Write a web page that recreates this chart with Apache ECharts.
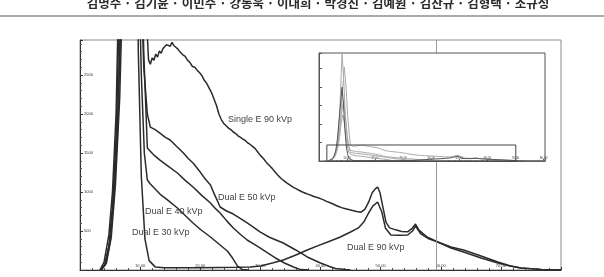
<!DOCTYPE html>
<html><head><meta charset="utf-8">
<script src="https://cdn.jsdelivr.net/npm/echarts@6/dist/echarts.min.js"></script>
<style>html,body{margin:0;padding:0;background:#fff}#c{width:604px;height:277px}</style>
</head><body><div id="c"></div>
<script>
// ---- data: [energy (keV), counts] ----
const headerText = "김명수 · 김기윤 · 이민수 · 강동욱 · 이대희 · 박경진 · 김예원 · 김찬규 · 김형택 · 조규성";
const seriesNames = ["Single E 90 kVp", "Dual E 50 kVp", "Dual E 40 kVp", "Dual E 30 kVp", "Dual E 90 kVp"];
const markerEnergy = 59.3;
const zoomBox = [[2.8, 0], [70.1, 2950]];

const single90 = [[3.5,0],[4.2,80],[5,380],[5.6,900],[6.2,1700],[6.8,3200],[7.5,6500],[8.3,12500],[9.0,17300],[9.6,14000],[10.2,8500],[10.8,4800],[11.2,3000],[11.4,2692],[11.7,2640],[12.0,2720],[12.3,2690],[12.6,2770],[12.9,2730],[13.2,2810],[13.5,2780],[13.8,2840],[14.1,2820],[14.4,2890],[14.7,2915],[15.0,2870],[15.3,2920],[15.6,2880],[15.9,2860],[16.2,2840],[16.5,2810],[16.8,2790],[17.1,2760],[17.5,2740],[17.9,2690],[18.3,2660],[18.7,2610],[19.1,2600],[19.5,2560],[19.9,2530],[20.3,2490],[20.7,2430],[21.1,2390],[21.5,2330],[21.9,2270],[22.3,2190],[22.7,2110],[23.1,2000],[23.5,1930],[23.9,1880],[24.3,1850],[24.7,1820],[25.1,1800],[25.5,1770],[25.9,1750],[26.3,1720],[26.7,1700],[27.1,1680],[27.5,1660],[27.9,1630],[28.3,1610],[28.7,1585],[29.1,1560],[29.5,1520],[30.0,1470],[30.5,1430],[31.0,1380],[31.5,1340],[32.0,1300],[32.5,1250],[33.0,1210],[33.5,1170],[34.0,1140],[34.5,1110],[35.0,1085],[35.5,1060],[36.0,1040],[36.5,1020],[37.0,1000],[37.5,985],[38.0,970],[38.5,955],[39.0,940],[39.5,930],[40.0,915],[40.5,900],[41.0,880],[41.5,865],[42.0,850],[42.5,830],[43.0,815],[43.5,800],[44.0,790],[44.5,780],[45.0,770],[45.5,760],[46.0,750],[46.7,740],[47.4,780],[48.0,870],[48.6,990],[49.1,1040],[49.5,1064],[49.9,990],[50.4,800],[50.9,610],[51.5,540],[52.5,515],[53.5,495],[54.5,490],[55.2,530],[55.8,590],[56.3,520],[57.0,470],[57.8,420],[59.5,360],[61.7,295],[63.8,256],[66.7,180],[69.5,103],[71.5,55],[73.3,26],[76.7,8],[80,3]];
const dual50 = [[3.5,0],[4.1,60],[4.8,300],[5.4,800],[6.0,1700],[6.6,3500],[7.3,8000],[8.2,19900],[8.8,15000],[9.4,8000],[10.0,4200],[10.6,2600],[11.2,2000],[11.7,1833],[12.5,1800],[13.3,1756],[14.2,1700],[15.0,1667],[16.0,1590],[17.2,1500],[18.0,1430],[18.8,1372],[20.0,1256],[20.8,1170],[21.7,1090],[22.3,980],[22.8,897],[23.3,808],[24.3,760],[25.5,718],[26.7,660],[27.8,603],[29.0,540],[30.0,487],[31.5,420],[33.8,346],[35.8,260],[37.8,167],[40.0,90],[41.5,45],[42.5,19],[44.2,5],[45,0]];
const dual40 = [[3.5,0],[4.3,80],[5.0,380],[5.7,1000],[6.3,2000],[7.0,4000],[7.8,8000],[8.8,11200],[9.4,8500],[10.0,5000],[10.6,2800],[11.2,1564],[12.2,1480],[13.3,1410],[14.7,1330],[16.2,1244],[17.5,1150],[18.8,1064],[20.2,960],[21.7,859],[22.5,790],[23.3,731],[24.4,630],[25.5,538],[26.7,455],[27.8,385],[29.0,330],[30.0,282],[31.2,220],[32.5,154],[34.0,90],[35.5,38],[36.7,5],[38,0]];
const dual30 = [[3.5,0],[4.4,90],[5.2,420],[5.9,1100],[6.6,2200],[7.3,4200],[7.9,7000],[8.5,8500],[9.0,7000],[9.6,4500],[10.2,2500],[10.7,1500],[11.2,1154],[11.7,1103],[12.5,1040],[13.3,974],[14.7,890],[16.2,795],[17.5,700],[18.8,603],[20.2,510],[21.7,423],[23.0,340],[24.5,244],[25.4,150],[26.2,51],[27.0,5],[28,0]];
const dual90 = [[3.3,0],[4.0,100],[4.8,450],[5.4,1000],[6.0,2000],[6.6,4200],[7.4,9000],[8.2,13600],[8.7,10500],[9.2,6000],[9.7,2800],[10.2,1200],[10.8,400],[11.5,120],[12.5,40],[14,30],[17,28],[20,30],[23,32],[26,35],[28.3,38],[30,51],[32,90],[33.8,128],[35.8,190],[37.8,256],[39.5,310],[41.2,359],[43.2,420],[45.0,487],[46.3,540],[47.2,615],[48.0,731],[48.7,820],[49.5,872],[50.2,744],[50.8,538],[51.7,449],[53,445],[54.5,449],[55.3,500],[55.8,564],[56.7,462],[58,400],[59.5,359],[61.7,282],[63.8,231],[66.7,154],[69.5,90],[71.5,50],[73.3,26],[76.7,8],[80,3]];

const allData = [single90, dual50, dual40, dual30, dual90];
const insetColors = ["#aaa", "#aaa", "#aaa", "#aaa", "#555"];

const chart = echarts.init(document.getElementById('c'), null, {renderer: 'canvas'});
const fmt = v => v.toFixed(2);
const tiny = {fontSize: 4, color: '#333', fontFamily: 'Liberation Sans'};

const series = [];
allData.forEach((d, i) => {
  series.push({
    name: seriesNames[i], type: 'line', xAxisIndex: 0, yAxisIndex: 0, data: d,
    showSymbol: false, clip: true, z: 2,
    lineStyle: {color: '#2b2b2b', width: 1.5},
    markLine: i === 0 ? {silent: true, symbol: 'none', label: {show: false},
      lineStyle: {color: '#9a9a9a', width: 1, type: 'solid'}, data: [{xAxis: markerEnergy}]} : undefined
  });
});
allData.forEach((d, i) => {
  series.push({
    name: seriesNames[i] + ' inset', type: 'line', xAxisIndex: 1, yAxisIndex: 1, data: d,
    showSymbol: false, clip: true, z: 12,
    lineStyle: {color: insetColors[i], width: 1},
    markArea: i === 0 ? {silent: true, z: 14, itemStyle: {color: 'rgba(255,255,255,0)', borderColor: '#444', borderWidth: 1, borderType: 'solid'},
      data: [[{coord: zoomBox[0]}, {coord: zoomBox[1]}]]} : undefined
  });
});

chart.setOption({
  animation: false,
  backgroundColor: '#fff',
  grid: [
    {left: 80, top: 40, right: 43, bottom: 7, show: true, borderColor: '#8a8a8a', borderWidth: 1, backgroundColor: 'transparent', z: 0},
    {left: 319, top: 53, width: 226, height: 108, show: true, borderColor: '#555', borderWidth: 1, backgroundColor: '#fff', z: 10}
  ],
  xAxis: [
    {gridIndex: 0, type: 'value', min: 0, max: 80, interval: 10,
      axisLine: {lineStyle: {color: '#333', width: 1}},
      axisTick: {inside: true, length: 3, lineStyle: {color: '#333'}},
      minorTick: {show: true, splitNumber: 5, length: 2, lineStyle: {color: '#555'}},
      splitLine: {show: false},
      axisLabel: Object.assign({inside: true, margin: 2, formatter: fmt, showMinLabel: false, showMaxLabel: false, hideOverlap: false}, tiny)},
    {gridIndex: 1, type: 'value', min: 0, max: 80.5, interval: 10, z: 12,
      axisLine: {lineStyle: {color: '#555', width: 1}},
      axisTick: {inside: true, length: 2, lineStyle: {color: '#555'}},
      minorTick: {show: true, splitNumber: 5, length: 1, lineStyle: {color: '#777'}},
      splitLine: {show: false},
      axisLabel: Object.assign({inside: true, margin: 1, formatter: fmt, showMinLabel: false, showMaxLabel: false}, tiny, {fontSize: 3})}
  ],
  yAxis: [
    {gridIndex: 0, type: 'value', min: 0, max: 2950, interval: 500,
      axisLine: {show: true, lineStyle: {color: '#333', width: 1}},
      axisTick: {show: true, inside: true, length: 3, lineStyle: {color: '#333'}},
      minorTick: {show: true, splitNumber: 5, length: 2, lineStyle: {color: '#555'}},
      splitLine: {show: false},
      axisLabel: Object.assign({inside: true, margin: 4, formatter: v => String(v), showMinLabel: false, showMaxLabel: false}, tiny)},
    {gridIndex: 1, type: 'value', min: 0, max: 19900, interval: 3400, z: 12,
      axisLine: {show: true, lineStyle: {color: '#555', width: 1}},
      axisTick: {show: true, inside: true, length: 3, lineStyle: {color: '#555'}},
      splitLine: {show: false},
      axisLabel: {show: false}}
  ],
  graphic: [
    {type: 'text', x: 318, y: 3, style: {text: headerText, font: 'bold 12.5px "Noto Sans CJK KR"', fill: '#2a2a2a', align: 'center', verticalAlign: 'middle'}},
    {type: 'line', shape: {x1: 0, y1: 16, x2: 604, y2: 16}, style: {stroke: '#555', lineWidth: 1}},
    {type: 'text', x: 228, y: 120, style: {text: seriesNames[0], font: '9px "Liberation Sans"', fill: '#444', verticalAlign: 'middle'}, z: 20},
    {type: 'text', x: 218, y: 198, style: {text: seriesNames[1], font: '9px "Liberation Sans"', fill: '#444', verticalAlign: 'middle'}, z: 20},
    {type: 'text', x: 145, y: 212, style: {text: seriesNames[2], font: '9px "Liberation Sans"', fill: '#444', verticalAlign: 'middle'}, z: 20},
    {type: 'text', x: 132, y: 233, style: {text: seriesNames[3], font: '9px "Liberation Sans"', fill: '#444', verticalAlign: 'middle'}, z: 20},
    {type: 'text', x: 347, y: 248, style: {text: seriesNames[4], font: '9px "Liberation Sans"', fill: '#444', verticalAlign: 'middle'}, z: 20}
  ],
  series: series
});
</script></body></html>
